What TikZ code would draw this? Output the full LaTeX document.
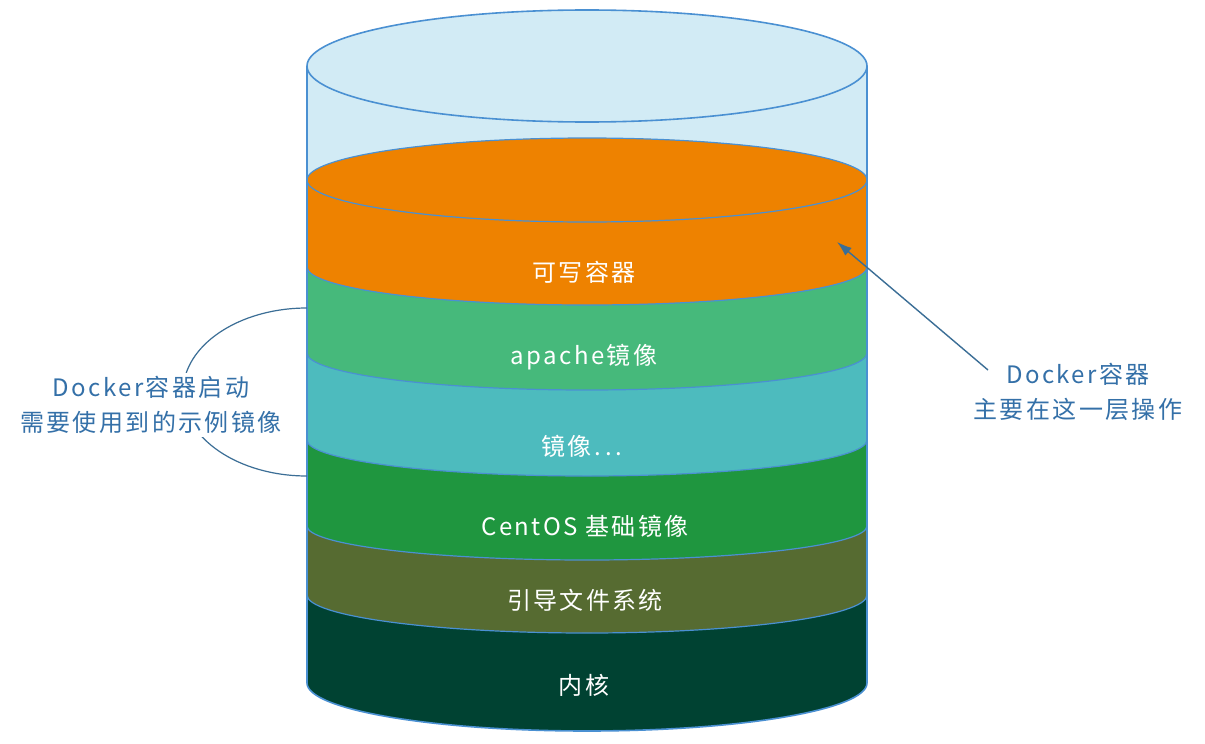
\documentclass[tikz,border=0pt]{standalone}
\usepackage{fontspec}
\setmainfont{Noto Sans CJK SC}
\newfontfamily\widefont[LetterSpace=10]{Noto Sans CJK SC}
\usetikzlibrary{arrows.meta}
\definecolor{cylline}{HTML}{4A90D2}
\definecolor{toplight}{HTML}{D2EBF5}
\definecolor{cwrite}{HTML}{EE8200}
\definecolor{capache}{HTML}{46B97B}
\definecolor{cteal}{HTML}{4DBBBE}
\definecolor{cgreen}{HTML}{1F963F}
\definecolor{colive}{HTML}{566B31}
\definecolor{ckernel}{HTML}{004232}
\definecolor{txtblue}{HTML}{3470A8}
\definecolor{arrblue}{HTML}{3B6E96}
\tikzset{
  outline/.style={draw=cylline, line width=1.6pt},
  sep/.style={draw=cylline, line width=1.2pt},
  lbl/.style={text=white, font=\widefont\fontsize{24}{28}\selectfont, inner sep=0pt},
  note/.style={text=txtblue, font=\widefont\fontsize{24}{35}\selectfont, align=center, fill=white, inner sep=3pt},
  pointer/.style={draw=arrblue, line width=1.4pt, -{Latex[length=15pt,width=10pt]}},
  brace/.style={draw=arrblue, line width=1.2pt}
}
\begin{document}
\begin{tikzpicture}[x=1pt,y=-1pt]
\useasboundingbox[fill=white] (0,0) rectangle (1205,744);
% light blue body
\fill[toplight] (307,66) arc[start angle=180,end angle=0,x radius=280pt,y radius=56pt] -- (867,683) arc[start angle=360,end angle=180,x radius=280pt,y radius=48pt] -- cycle;
% writable layer
\fill[cwrite] (307,180) arc[start angle=180,end angle=0,x radius=280pt,y radius=42pt] -- (867,267) arc[start angle=360,end angle=180,x radius=280pt,y radius=38pt] -- cycle;
% apache
\fill[capache] (307,267) arc[start angle=180,end angle=360,x radius=280pt,y radius=38pt] -- (867,353) arc[start angle=360,end angle=180,x radius=280pt,y radius=37pt] -- cycle;
% teal
\fill[cteal] (307,353) arc[start angle=180,end angle=360,x radius=280pt,y radius=37pt] -- (867,440) arc[start angle=360,end angle=180,x radius=280pt,y radius=36pt] -- cycle;
% centos
\fill[cgreen] (307,440) arc[start angle=180,end angle=360,x radius=280pt,y radius=36pt] -- (867,526) arc[start angle=360,end angle=180,x radius=280pt,y radius=34pt] -- cycle;
% boot fs
\fill[colive] (307,526) arc[start angle=180,end angle=360,x radius=280pt,y radius=34pt] -- (867,595) arc[start angle=360,end angle=180,x radius=280pt,y radius=38pt] -- cycle;
% kernel
\fill[ckernel] (307,595) arc[start angle=180,end angle=360,x radius=280pt,y radius=38pt] -- (867,683) arc[start angle=360,end angle=180,x radius=280pt,y radius=48pt] -- cycle;
% separators
\draw[sep] (307,180) arc[start angle=180,end angle=-180,x radius=280pt,y radius=42pt];
\draw[sep] (307,267) arc[start angle=180,end angle=360,x radius=280pt,y radius=38pt];
\draw[sep] (307,353) arc[start angle=180,end angle=360,x radius=280pt,y radius=37pt];
\draw[sep] (307,440) arc[start angle=180,end angle=360,x radius=280pt,y radius=36pt];
\draw[sep] (307,526) arc[start angle=180,end angle=360,x radius=280pt,y radius=34pt];
\draw[sep] (307,595) arc[start angle=180,end angle=360,x radius=280pt,y radius=38pt];
% outline
\draw[outline] (307,66) arc[start angle=180,end angle=-180,x radius=280pt,y radius=56pt];
\draw[outline] (307,66) -- (307,683) arc[start angle=180,end angle=360,x radius=280pt,y radius=48pt] -- (867,66);
% layer labels
\node[lbl] (lwrite) at (584,272) {可写容器};
\node[lbl] (lapache) at (584,357) {apache镜像};
\node[lbl] (lmore) at (582,446) {镜像.\,.\,.};
\node[lbl] (lcentos) at (585,526) {CentOS 基础镜像};
\node[lbl] (lboot) at (585,600) {引导文件系统};
\node[lbl] (lkernel) at (584,685) {内核};
% left brace
\draw[brace] (307,308) arc[start angle=90,end angle=270,x radius=124pt,y radius=84pt];
\node[note] (lnote) at (151,405) {Docker容器启动\\需要使用到的示例镜像};
% right note and arrow
\node[note] (rnote) at (1078,392) {Docker容器\\主要在这一层操作};
\coordinate (astart) at (988,370);
\coordinate (atip) at (837,242);
\draw[pointer] (astart) -- (atip);
\end{tikzpicture}
\end{document}
